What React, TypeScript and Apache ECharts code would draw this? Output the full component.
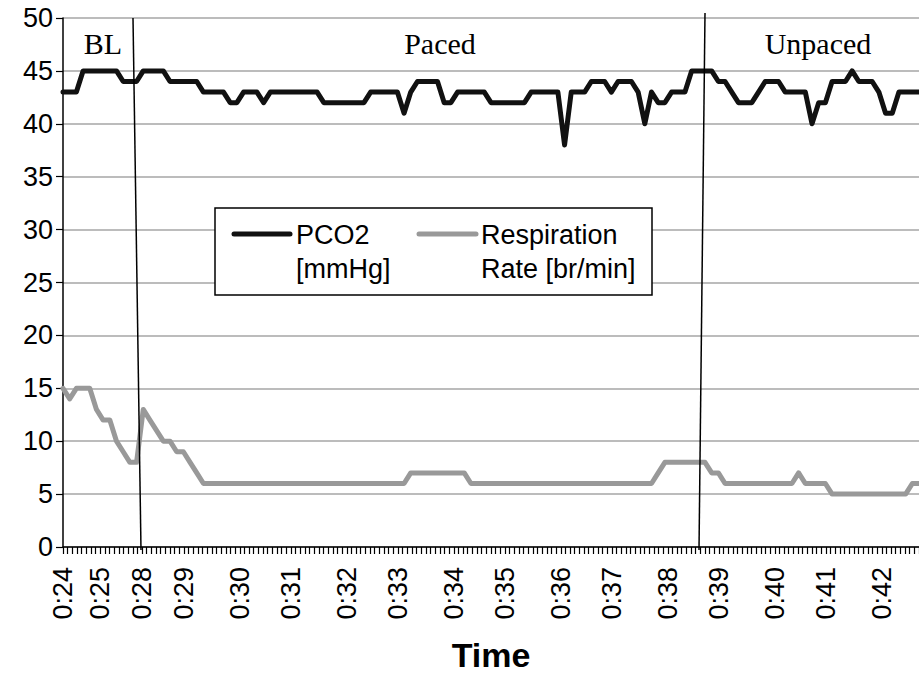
import React, { useEffect, useRef } from "react";
import * as echarts from "echarts";

// x-axis tick labels and the category index (of 185 tick positions) where each sits
const tickLabels = ["0:24", "0:25", "0:28", "0:29", "0:30", "0:31", "0:32", "0:33", "0:34", "0:35", "0:36", "0:37", "0:38", "0:39", "0:40", "0:41", "0:42"];
const tickAt = [0, 8, 17, 26, 38, 49, 61, 72, 84, 95, 107, 118, 130, 141, 153, 164, 176];
const tickCount = 185;

// PCO2 [mmHg] samples
const pco2 = [
  43, 43, 43, 45, 45, 45, 45, 45, 45, 44,
  44, 44, 45, 45, 45, 45, 44, 44, 44, 44,
  44, 43, 43, 43, 43, 42, 42, 43, 43, 43,
  42, 43, 43, 43, 43, 43, 43, 43, 43, 42,
  42, 42, 42, 42, 42, 42, 43, 43, 43, 43,
  43, 41, 43, 44, 44, 44, 44, 42, 42, 43,
  43, 43, 43, 43, 42, 42, 42, 42, 42, 42,
  43, 43, 43, 43, 43, 38, 43, 43, 43, 44,
  44, 44, 43, 44, 44, 44, 43, 40, 43, 42,
  42, 43, 43, 43, 45, 45, 45, 45, 44, 44,
  43, 42, 42, 42, 43, 44, 44, 44, 43, 43,
  43, 43, 40, 42, 42, 44, 44, 44, 45, 44,
  44, 44, 43, 41, 41, 43, 43, 43, 43,
];

// Respiration rate [br/min] samples
const resp = [
  15, 14, 15, 15, 15, 13, 12, 12, 10, 9,
  8, 8, 13, 12, 11, 10, 10, 9, 9, 8,
  7, 6, 6, 6, 6, 6, 6, 6, 6, 6,
  6, 6, 6, 6, 6, 6, 6, 6, 6, 6,
  6, 6, 6, 6, 6, 6, 6, 6, 6, 6,
  6, 6, 7, 7, 7, 7, 7, 7, 7, 7,
  7, 6, 6, 6, 6, 6, 6, 6, 6, 6,
  6, 6, 6, 6, 6, 6, 6, 6, 6, 6,
  6, 6, 6, 6, 6, 6, 6, 6, 6, 7,
  8, 8, 8, 8, 8, 8, 8, 7, 7, 6,
  6, 6, 6, 6, 6, 6, 6, 6, 6, 6,
  7, 6, 6, 6, 6, 5, 5, 5, 5, 5,
  5, 5, 5, 5, 5, 5, 5, 6, 6,
];

const seriesNames = ["PCO2", "Respiration"];
const legendLines = [["PCO2", "[mmHg]"], ["Respiration", "Rate [br/min]"]];
const phaseLabels = ["BL", "Paced", "Unpaced"];

const SANS = "'Liberation Sans', Arial, Helvetica, sans-serif";
const SERIF = "'Liberation Serif', 'Times New Roman', serif";

export default function App() {
  const ref = useRef<HTMLDivElement>(null);

  useEffect(() => {
    if (!ref.current) return;
    const chart = echarts.init(ref.current, null, { renderer: "svg" });
    const tickCats = Array.from({ length: tickCount }, (_, i) => String(i));
    const sampleCats = pco2.map((_, i) => String(i));

    chart.setOption({
      animation: false,
      backgroundColor: "#ffffff",
      grid: { left: 63, right: 0, top: 18, bottom: 127, containLabel: false },
      xAxis: [
        {
          type: "category",
          data: tickCats,
          boundaryGap: false,
          position: "bottom",
          axisLine: { show: true, lineStyle: { color: "#000", width: 1.5 } },
          axisTick: { show: true, interval: 0, length: 7, lineStyle: { color: "#000", width: 1.2 } },
          axisLabel: {
            interval: (i: number) => tickAt.includes(i),
            formatter: (v: string) => {
              const k = tickAt.indexOf(Number(v));
              return k >= 0 ? tickLabels[k] : "";
            },
            rotate: 90,
            fontSize: 27,
            color: "#000",
            fontFamily: SANS,
            margin: 20,
          },
          splitLine: { show: false },
          name: "Time",
          nameLocation: "middle",
          nameGap: 91,
          nameTextStyle: { fontSize: 34, fontWeight: "bold", color: "#000", fontFamily: SANS },
        },
        {
          type: "category",
          data: sampleCats,
          boundaryGap: false,
          show: false,
          position: "bottom",
        },
      ],
      yAxis: {
        type: "value",
        min: 0,
        max: 50,
        interval: 5,
        axisLine: { show: true, lineStyle: { color: "#000", width: 1.5 } },
        axisTick: { show: true, length: 7, lineStyle: { color: "#000", width: 1.2 } },
        axisLabel: { fontSize: 27, color: "#000", fontFamily: SANS, margin: 10 },
        splitLine: { show: true, lineStyle: { color: "#a6a6a6", width: 1.5 } },
      },
      series: [
        {
          name: seriesNames[0],
          type: "line",
          xAxisIndex: 1,
          data: pco2,
          showSymbol: false,
          symbol: "none",
          lineStyle: { color: "#111111", width: 5, join: "round", cap: "round" },
          z: 3,
        },
        {
          name: seriesNames[1],
          type: "line",
          xAxisIndex: 1,
          data: resp,
          showSymbol: false,
          symbol: "none",
          lineStyle: { color: "#999999", width: 5, join: "round", cap: "round" },
          z: 3,
        },
      ],
      graphic: [
        // phase separators
        { type: "line", z: 10, shape: { x1: 133, y1: 18, x2: 141, y2: 550 }, style: { stroke: "#000", lineWidth: 1.5 } },
        { type: "line", z: 10, shape: { x1: 705, y1: 13, x2: 699, y2: 550 }, style: { stroke: "#000", lineWidth: 1.5 } },
        // phase labels
        { type: "text", z: 10, x: 103, y: 43, style: { text: phaseLabels[0], font: `30px ${SERIF}`, fill: "#000", textAlign: "center", textVerticalAlign: "middle" } },
        { type: "text", z: 10, x: 440, y: 43, style: { text: phaseLabels[1], font: `30px ${SERIF}`, fill: "#000", textAlign: "center", textVerticalAlign: "middle" } },
        { type: "text", z: 10, x: 818, y: 43, style: { text: phaseLabels[2], font: `30px ${SERIF}`, fill: "#000", textAlign: "center", textVerticalAlign: "middle" } },
        // legend box
        { type: "rect", z: 20, shape: { x: 215, y: 208, width: 437, height: 87 }, style: { fill: "#fff", stroke: "#000", lineWidth: 1.5 } },
        { type: "line", z: 21, shape: { x1: 234, y1: 234, x2: 290, y2: 234 }, style: { stroke: "#111111", lineWidth: 5, lineCap: "round" } },
        { type: "line", z: 21, shape: { x1: 419, y1: 234, x2: 476, y2: 234 }, style: { stroke: "#999999", lineWidth: 5, lineCap: "round" } },
        { type: "text", z: 21, x: 296, y: 235, style: { text: legendLines[0][0], font: `27px ${SANS}`, fill: "#000", textAlign: "left", textVerticalAlign: "middle" } },
        { type: "text", z: 21, x: 296, y: 269, style: { text: legendLines[0][1], font: `27px ${SANS}`, fill: "#000", textAlign: "left", textVerticalAlign: "middle" } },
        { type: "text", z: 21, x: 481, y: 235, style: { text: legendLines[1][0], font: `27px ${SANS}`, fill: "#000", textAlign: "left", textVerticalAlign: "middle" } },
        { type: "text", z: 21, x: 481, y: 269, style: { text: legendLines[1][1], font: `27px ${SANS}`, fill: "#000", textAlign: "left", textVerticalAlign: "middle" } },
      ],
    });

    return () => chart.dispose();
  }, []);

  return (
    <div
      ref={ref}
      style={{ position: "fixed", left: 0, top: 0, width: 919, height: 677, background: "#fff" }}
    />
  );
}
